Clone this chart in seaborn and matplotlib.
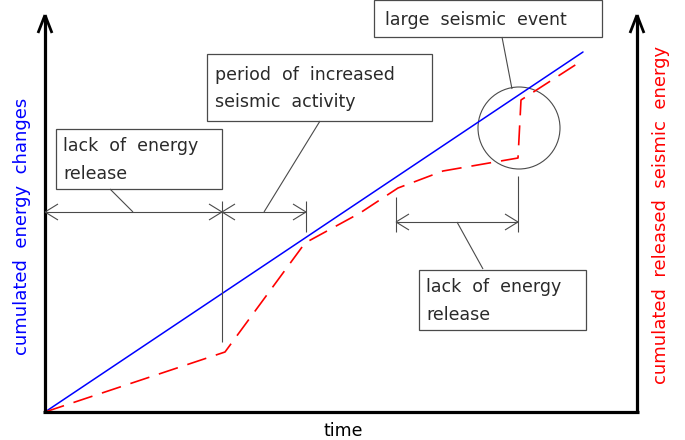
import numpy as np
import pandas as pd
import seaborn as sns
from matplotlib import pyplot as plt
from matplotlib.patches import Circle, Rectangle

# values in diagram units (origin at the axes corner)
blue_time = [0, 538]
blue_energy = [0, 360]

red_time = [0, 180, 260, 315, 353, 398, 473, 476, 538]
red_energy = [0, 60, 169, 199, 224, 241, 254, 312, 352]

box_texts = ["lack  of  energy\nrelease",
             "period  of  increased\nseismic  activity",
             "large  seismic  event",
             "lack  of  energy\nrelease"]

sns.set_style("white")
plt.rcParams['font.family'] = ['DejaVu Sans']

fig = plt.figure(figsize=(6.85, 4.4), dpi=100)
ax = fig.add_axes([0, 0, 1, 1])
ax.set_xlim(-45, 640)
ax.set_ylim(-28, 412)
ax.axis('off')

def px(x, y):
    return x - 45, 412 - y

grey = '#4a4a4a'

# curves
sns.lineplot(x=blue_time, y=blue_energy, color='blue', lw=1.1, ax=ax, sort=False)
sns.lineplot(x=red_time, y=red_energy, color='red', lw=1.2, ax=ax, sort=False,
             linestyle=(0, (12, 6)))

# axes with open arrow heads
def seg(p, q, **kw):
    a, b = px(*p), px(*q)
    ax.plot([a[0], b[0]], [a[1], b[1]], solid_capstyle='butt', **kw)

ax_kw = dict(color='black', lw=2.3)
seg((45, 15), (45, 412), **ax_kw)
seg((637, 15), (637, 412), **ax_kw)
seg((43, 412), (639, 412), **ax_kw)
for x in (45, 637):
    seg((x, 15), (x - 7, 33), color='black', lw=2)
    seg((x, 15), (x + 7, 33), color='black', lw=2)

# dimension lines
def tip(x, y, d):
    seg((x, y), (x - d * 13, y - 8), color=grey, lw=0.8)
    seg((x, y), (x - d * 13, y + 8), color=grey, lw=0.8)

thin = dict(color=grey, lw=0.8)
seg((45, 212), (306, 212), **thin)
tip(45, 212, -1); tip(222, 212, 1); tip(222, 212, -1); tip(306, 212, 1)
seg((222, 201), (222, 342), **thin)
seg((306, 201), (306, 232), **thin)

seg((396, 222), (518, 222), **thin)
tip(396, 222, -1); tip(518, 222, 1)
seg((396, 197), (396, 232), **thin)
seg((518, 176), (518, 232), **thin)

# circle marking the large event
ax.add_patch(Circle(px(519, 128), 41, fill=False, ec=grey, lw=0.8))

# leader lines
seg((110, 189), (133, 212), **thin)
seg((264, 212), (320, 121), **thin)
seg((502, 37), (512, 89), **thin)
seg((457, 222), (483, 269), **thin)

# text boxes
boxes = [((56, 129, 222, 189), 63),
         ((207, 54, 432, 121), 215),
         ((374, 0, 602, 37), 385),
         ((419, 270, 586, 330), 426)]
for ((x0, y0, x1, y1), tx), label in zip(boxes, box_texts):
    ax.add_patch(Rectangle(px(x0, y1), x1 - x0, y1 - y0, fill=False, ec=grey, lw=0.9))
    ax.text(*px(tx, (y0 + y1) / 2 + 1), label, ha='left', va='center',
            fontsize=12.5, color='#2a2a2a', linespacing=1.65)

# axis labels
ax.text(*px(22, 226), "cumulated  energy  changes", rotation=90, color='blue',
        fontsize=13, ha='center', va='center')
ax.text(*px(661, 215), "cumulated  released  seismic  energy", rotation=90,
        color='red', fontsize=13, ha='center', va='center')
ax.text(*px(343, 431), "time", color='black', fontsize=12.5, ha='center', va='center')

fig.savefig('out.png', dpi=100)
